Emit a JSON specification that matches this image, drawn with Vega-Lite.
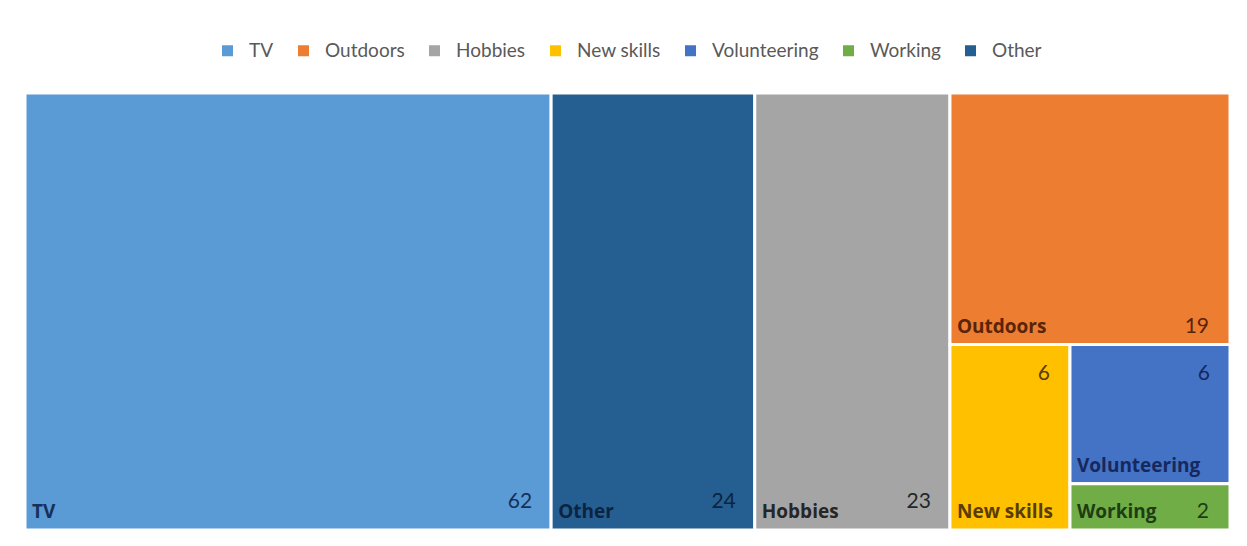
{
  "$schema": "https://vega.github.io/schema/vega-lite/v6.json",
  "width": 1205,
  "height": 437,
  "autosize": "none",
  "padding": {"left": 25, "top": 93, "right": 17, "bottom": 16},
  "background": "white",
  "config": {
    "view": {"stroke": null},
    "font": "Lato"
  },
  "data": {
    "values": [
      {"name": "TV", "value": 62, "col": "TV", "band": "TV", "sub": "TV"},
      {"name": "Other", "value": 24, "col": "Other", "band": "Other", "sub": "Other"},
      {"name": "Hobbies", "value": 23, "col": "Hobbies", "band": "Hobbies", "sub": "Hobbies"},
      {"name": "Outdoors", "value": 19, "col": "Rest", "band": "top", "sub": "Outdoors"},
      {"name": "New skills", "value": 6, "col": "Rest", "band": "bottom", "sub": "New skills"},
      {"name": "Volunteering", "value": 6, "col": "Rest", "band": "bottom", "sub": "VW"},
      {"name": "Working", "value": 2, "col": "Rest", "band": "bottom", "sub": "VW"}
    ]
  },
  "transform": [
    {"window": [{"op": "sum", "field": "value", "as": "cum"}], "sort": [{"field": "value", "order": "descending"}, {"field": "name", "order": "ascending"}], "frame": [null, 0], "ignorePeers": true},
    {"calculate": "datum.cum - datum.value", "as": "start"},
    {"joinaggregate": [{"op": "min", "field": "start", "as": "x0"}, {"op": "max", "field": "cum", "as": "x1"}, {"op": "sum", "field": "value", "as": "colTotal"}], "groupby": ["col"]},
    {"window": [{"op": "sum", "field": "value", "as": "cumCol"}], "sort": [{"field": "value", "order": "descending"}, {"field": "name", "order": "ascending"}], "frame": [null, 0], "ignorePeers": true, "groupby": ["col"]},
    {"calculate": "datum.cumCol - datum.value", "as": "startCol"},
    {"joinaggregate": [{"op": "min", "field": "startCol", "as": "bandStart"}, {"op": "max", "field": "cumCol", "as": "bandEnd"}, {"op": "sum", "field": "value", "as": "bandTotal"}], "groupby": ["col", "band"]},
    {"window": [{"op": "sum", "field": "value", "as": "cumBand"}], "sort": [{"field": "value", "order": "descending"}, {"field": "name", "order": "ascending"}], "frame": [null, 0], "ignorePeers": true, "groupby": ["col", "band"]},
    {"calculate": "datum.cumBand - datum.value", "as": "startBand"},
    {"joinaggregate": [{"op": "min", "field": "startBand", "as": "subStart"}, {"op": "max", "field": "cumBand", "as": "subEnd"}, {"op": "sum", "field": "value", "as": "subTotal"}], "groupby": ["col", "band", "sub"]},
    {"window": [{"op": "sum", "field": "value", "as": "cumSub"}], "sort": [{"field": "value", "order": "descending"}, {"field": "name", "order": "ascending"}], "frame": [null, 0], "ignorePeers": true, "groupby": ["col", "band", "sub"]},
    {"calculate": "datum.x0 + (datum.x1 - datum.x0) * datum.subStart / datum.bandTotal", "as": "rx0"},
    {"calculate": "datum.x0 + (datum.x1 - datum.x0) * datum.subEnd / datum.bandTotal", "as": "rx1"},
    {"calculate": "datum.bandStart / datum.colTotal", "as": "by0"},
    {"calculate": "datum.bandEnd / datum.colTotal", "as": "by1"},
    {"calculate": "datum.by0 + (datum.by1 - datum.by0) * (datum.cumSub - datum.value) / datum.subTotal", "as": "ry0"},
    {"calculate": "datum.by0 + (datum.by1 - datum.by0) * datum.cumSub / datum.subTotal", "as": "ry1"},
    {"calculate": "datum.name", "as": "labelName"}
  ],
  "layer": [
    {
      "mark": {"type": "rect", "stroke": "white", "strokeWidth": 3},
      "encoding": {
        "x": {"field": "rx0", "type": "quantitative", "axis": null, "scale": {"nice": false, "zero": true}},
        "x2": {"field": "rx1"},
        "y": {"field": "ry0", "type": "quantitative", "axis": null, "scale": {"domain": [0, 1], "reverse": true, "nice": false}},
        "y2": {"field": "ry1"},
        "color": {
          "field": "name",
          "type": "nominal",
          "scale": {
            "domain": ["TV", "Outdoors", "Hobbies", "New skills", "Volunteering", "Working", "Other"],
            "range": ["#5B9BD5", "#ED7D31", "#A5A5A5", "#FFC000", "#4472C4", "#70AD47", "#255E91"]
          },
          "legend": {
            "orient": "none",
            "legendX": 193,
            "legendY": -52,
            "direction": "horizontal",
            "title": null,
            "symbolType": "square",
            "symbolSize": 121,
            "symbolStrokeWidth": 0,
            "labelFontSize": 19,
            "labelColor": "#595959",
            "labelFont": "Lato",
            "columnPadding": 20,
            "labelOffset": 12
          }
        }
      }
    },
    {
      "mark": {"type": "text", "align": "left", "baseline": "alphabetic", "dx": 7, "dy": -12, "fontSize": 19, "fontWeight": "bold", "font": "Open Sans"},
      "encoding": {
        "x": {"field": "rx0", "type": "quantitative"},
        "y": {"field": "ry1", "type": "quantitative"},
        "text": {"field": "name"},
        "fill": {
          "field": "labelName",
          "type": "nominal",
          "legend": null,
          "scale": {
            "domain": ["TV", "Outdoors", "Hobbies", "New skills", "Volunteering", "Working", "Other"],
            "range": ["#16305a", "#5a2408", "#262626", "#5a3c00", "#16285e", "#1f3d12", "#0c2440"]
          }
        }
      }
    },
    {
      "transform": [{"filter": "datum.name == 'TV' || datum.name == 'Other' || datum.name == 'Hobbies'"}],
      "mark": {"type": "text", "align": "right", "baseline": "alphabetic", "dx": -19, "dy": -22, "fontSize": 21},
      "encoding": {
        "x": {"field": "rx1", "type": "quantitative"},
        "y": {"field": "ry1", "type": "quantitative"},
        "text": {"field": "value", "type": "quantitative"},
        "fill": {"field": "labelName", "type": "nominal", "legend": null}
      }
    },
    {
      "transform": [{"filter": "datum.name == 'Outdoors' || datum.name == 'Working'"}],
      "mark": {"type": "text", "align": "right", "baseline": "alphabetic", "dx": -21, "dy": -12, "fontSize": 21},
      "encoding": {
        "x": {"field": "rx1", "type": "quantitative"},
        "y": {"field": "ry1", "type": "quantitative"},
        "text": {"field": "value", "type": "quantitative"},
        "fill": {"field": "labelName", "type": "nominal", "legend": null}
      }
    },
    {
      "transform": [{"filter": "datum.name == 'New skills' || datum.name == 'Volunteering'"}],
      "mark": {"type": "text", "align": "right", "baseline": "alphabetic", "dx": -20, "dy": 35, "fontSize": 21},
      "encoding": {
        "x": {"field": "rx1", "type": "quantitative"},
        "y": {"field": "ry0", "type": "quantitative"},
        "text": {"field": "value", "type": "quantitative"},
        "fill": {"field": "labelName", "type": "nominal", "legend": null}
      }
    }
  ],
  "resolve": {"legend": {"color": "independent", "fill": "independent"}}
}
